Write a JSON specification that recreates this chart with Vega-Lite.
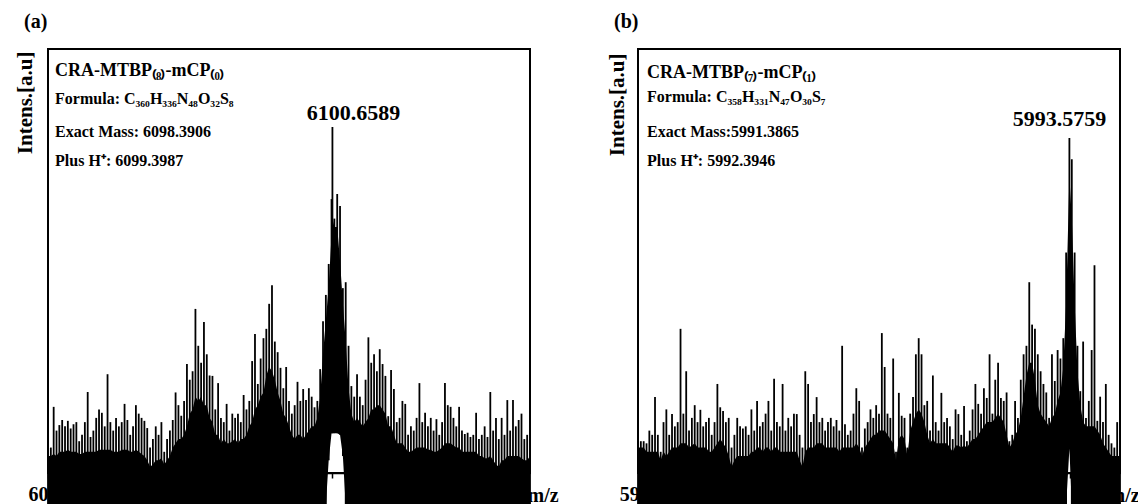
{
"$schema": "https://vega.github.io/schema/vega-lite/v6.json",
"background": "white",
"padding": {"left": 12, "top": 11, "right": 0, "bottom": 0},
"bounds": "flush",
"spacing": 108,
"config": {"view": {"stroke": "black", "strokeWidth": 2}, "font": "Liberation Serif"},
"datasets": {
"a": [
{"mz":6050.5,"top":5,"floor":4,"base":-7.6},{"mz":6051,"top":6,"floor":4,"base":-7.6},{"mz":6051.5,"top":15.6,"floor":4.5,"base":-7.6},{"mz":6052,"top":10,"floor":4,"base":-7.6},{"mz":6052.5,"top":11.3,"floor":5,"base":-7.6},{"mz":6053,"top":12.5,"floor":5,"base":-7.6},{"mz":6053.5,"top":11,"floor":5,"base":-7.6},{"mz":6054,"top":12.3,"floor":5.5,"base":-7.6},{"mz":6054.5,"top":10.5,"floor":5,"base":-7.6},{"mz":6055,"top":11.5,"floor":5,"base":-7.6},{"mz":6055.5,"top":12,"floor":5,"base":-7.6},{"mz":6056,"top":7.5,"floor":4.5,"base":-7.6},{"mz":6056.5,"top":9,"floor":4.5,"base":-7.6},{"mz":6057,"top":12,"floor":5,"base":-7.6},{"mz":6057.5,"top":19.1,"floor":5,"base":-7.6},{"mz":6058,"top":8.5,"floor":5,"base":-7.6},{"mz":6058.5,"top":10,"floor":5,"base":-7.6},{"mz":6059,"top":13,"floor":5,"base":-7.6},{"mz":6059.5,"top":15,"floor":5.5,"base":-7.6},{"mz":6060,"top":14.2,"floor":5.5,"base":-7.6},{"mz":6060.5,"top":11,"floor":5.5,"base":-7.6},{"mz":6061,"top":23.3,"floor":5.5,"base":-7.6},{"mz":6061.5,"top":12,"floor":5.5,"base":-7.6},{"mz":6062,"top":10,"floor":5,"base":-7.6},{"mz":6062.5,"top":13,"floor":5,"base":-7.6},{"mz":6063,"top":11,"floor":5,"base":-7.6},{"mz":6063.5,"top":12,"floor":5.5,"base":-7.6},{"mz":6064,"top":16.3,"floor":5.5,"base":-7.6},{"mz":6064.5,"top":12.5,"floor":5.5,"base":-7.6},{"mz":6065,"top":9,"floor":5,"base":-7.6},{"mz":6065.5,"top":11,"floor":5,"base":-7.6},{"mz":6066,"top":16,"floor":5.5,"base":-7.6},{"mz":6066.5,"top":14,"floor":5,"base":-7.6},{"mz":6067,"top":13,"floor":4.5,"base":-7.6},{"mz":6067.5,"top":12.3,"floor":4,"base":-7.6},{"mz":6068,"top":10.6,"floor":3,"base":-7.6},{"mz":6068.5,"top":6,"floor":1.5,"base":-7.6},{"mz":6069,"top":8,"floor":2,"base":-7.6},{"mz":6069.5,"top":11,"floor":3,"base":-7.6},{"mz":6070,"top":9,"floor":3,"base":-7.6},{"mz":6070.5,"top":12,"floor":3.5,"base":-7.6},{"mz":6071,"top":5,"floor":2,"base":-7.6},{"mz":6071.5,"top":8,"floor":3,"base":-7.6},{"mz":6072,"top":10,"floor":4,"base":-7.6},{"mz":6072.5,"top":12.5,"floor":6,"base":-7.6},{"mz":6073,"top":19,"floor":7,"base":-7.6},{"mz":6073.5,"top":16,"floor":8,"base":-7.6},{"mz":6074,"top":13.5,"floor":8,"base":-7.6},{"mz":6074.5,"top":17,"floor":9,"base":-7.6},{"mz":6075,"top":25.7,"floor":11,"base":-7.6},{"mz":6075.5,"top":22,"floor":14,"base":-7.6},{"mz":6076,"top":24,"floor":15,"base":-7.6},{"mz":6076.5,"top":38.7,"floor":18,"base":-7.6},{"mz":6077,"top":30,"floor":17,"base":-7.6},{"mz":6077.5,"top":26,"floor":18,"base":-7.6},{"mz":6078,"top":35.6,"floor":16,"base":-7.6},{"mz":6078.5,"top":28,"floor":16,"base":-7.6},{"mz":6079,"top":23,"floor":13,"base":-7.6},{"mz":6079.5,"top":22.9,"floor":12,"base":-7.6},{"mz":6080,"top":15,"floor":9,"base":-7.6},{"mz":6080.5,"top":21.2,"floor":9,"base":-7.6},{"mz":6081,"top":13,"floor":7,"base":-7.6},{"mz":6081.5,"top":12,"floor":8,"base":-7.6},{"mz":6082,"top":16.3,"floor":7,"base":-7.6},{"mz":6082.5,"top":10,"floor":7,"base":-7.6},{"mz":6083,"top":14,"floor":7.5,"base":-7.6},{"mz":6083.5,"top":13,"floor":8,"base":-7.6},{"mz":6084,"top":14,"floor":7,"base":-7.6},{"mz":6084.5,"top":12,"floor":8,"base":-7.6},{"mz":6085,"top":18.4,"floor":8,"base":-7.6},{"mz":6085.5,"top":15,"floor":9,"base":-7.6},{"mz":6086,"top":17,"floor":11,"base":-7.6},{"mz":6086.5,"top":26.4,"floor":12,"base":-7.6},{"mz":6087,"top":32.8,"floor":15,"base":-7.6},{"mz":6087.5,"top":21,"floor":16,"base":-7.6},{"mz":6088,"top":27,"floor":18,"base":-7.6},{"mz":6088.5,"top":31.8,"floor":19,"base":-7.6},{"mz":6089,"top":34,"floor":23,"base":-7.6},{"mz":6089.5,"top":39.9,"floor":25,"base":-7.6},{"mz":6090,"top":44.3,"floor":24,"base":-7.6},{"mz":6090.5,"top":31,"floor":22,"base":-7.6},{"mz":6091,"top":28.5,"floor":19,"base":-7.6},{"mz":6091.5,"top":24.8,"floor":17,"base":-7.6},{"mz":6092,"top":20,"floor":14,"base":-7.6},{"mz":6092.5,"top":25,"floor":13,"base":-7.6},{"mz":6093,"top":17,"floor":11,"base":-7.6},{"mz":6093.5,"top":14,"floor":9,"base":-7.6},{"mz":6094,"top":16,"floor":8,"base":-7.6},{"mz":6094.5,"top":21.5,"floor":9,"base":-7.6},{"mz":6095,"top":17,"floor":9,"base":-7.6},{"mz":6095.5,"top":19.8,"floor":8,"base":-7.6},{"mz":6096,"top":17.2,"floor":9,"base":-7.6},{"mz":6096.5,"top":20,"floor":10,"base":-7.6},{"mz":6097,"top":18,"floor":11,"base":-7.6},{"mz":6097.5,"top":15.5,"floor":11,"base":-7.6},{"mz":6098,"top":17,"floor":13,"base":-7.6},{"mz":6098.5,"top":24.5,"floor":18,"base":-7.6},{"mz":6099,"top":35.8,"floor":28,"base":-7.6},{"mz":6099.5,"top":42,"floor":36,"base":-7.6},{"mz":6100,"top":49.3,"floor":44,"base":3},{"mz":6100.5,"top":64.6,"floor":56,"base":9.4},{"mz":6100.6589,"top":81.6,"floor":60,"base":9.4},{"mz":6101,"top":60,"floor":58,"base":9.4},{"mz":6101.5,"top":65.8,"floor":58,"base":9.4},{"mz":6102,"top":63,"floor":50,"base":9},{"mz":6102.5,"top":43.6,"floor":40,"base":4},{"mz":6103,"top":45,"floor":31,"base":-7.6},{"mz":6103.5,"top":30,"floor":20,"base":-7.6},{"mz":6104,"top":20.5,"floor":14,"base":-7.6},{"mz":6104.5,"top":18,"floor":12,"base":-7.6},{"mz":6105,"top":23.3,"floor":13,"base":-7.6},{"mz":6105.5,"top":18,"floor":12,"base":-7.6},{"mz":6106,"top":16,"floor":11,"base":-7.6},{"mz":6106.5,"top":22,"floor":12,"base":-7.6},{"mz":6107,"top":32,"floor":13,"base":-7.6},{"mz":6107.5,"top":26,"floor":15,"base":-7.6},{"mz":6108,"top":28,"floor":15,"base":-7.6},{"mz":6108.5,"top":24,"floor":16,"base":-7.6},{"mz":6109,"top":29.2,"floor":16,"base":-7.6},{"mz":6109.5,"top":25.7,"floor":15,"base":-7.6},{"mz":6110,"top":22.9,"floor":14,"base":-7.6},{"mz":6110.5,"top":13.4,"floor":11,"base":-7.6},{"mz":6111,"top":24.3,"floor":11,"base":-7.6},{"mz":6111.5,"top":19.8,"floor":9,"base":-7.6},{"mz":6112,"top":12,"floor":7,"base":-7.6},{"mz":6112.5,"top":13,"floor":7,"base":-7.6},{"mz":6113,"top":17,"floor":7,"base":-7.6},{"mz":6113.5,"top":16.3,"floor":6,"base":-7.6},{"mz":6114,"top":9,"floor":5,"base":-7.6},{"mz":6114.5,"top":11,"floor":5,"base":-7.6},{"mz":6115,"top":10,"floor":5.5,"base":-7.6},{"mz":6115.5,"top":13,"floor":6,"base":-7.6},{"mz":6116,"top":21.2,"floor":6,"base":-7.6},{"mz":6116.5,"top":12,"floor":6,"base":-7.6},{"mz":6117,"top":14.2,"floor":6,"base":-7.6},{"mz":6117.5,"top":11,"floor":5.5,"base":-7.6},{"mz":6118,"top":13,"floor":5.5,"base":-7.6},{"mz":6118.5,"top":10,"floor":5,"base":-7.6},{"mz":6119,"top":12.7,"floor":5,"base":-7.6},{"mz":6119.5,"top":9,"floor":5.5,"base":-7.6},{"mz":6120,"top":12,"floor":6,"base":-7.6},{"mz":6120.5,"top":21.2,"floor":7,"base":-7.6},{"mz":6121,"top":16,"floor":7,"base":-7.6},{"mz":6121.5,"top":15.6,"floor":7,"base":-7.6},{"mz":6122,"top":13,"floor":6.5,"base":-7.6},{"mz":6122.5,"top":11,"floor":6,"base":-7.6},{"mz":6123,"top":15.6,"floor":6,"base":-7.6},{"mz":6123.5,"top":10,"floor":5,"base":-7.6},{"mz":6124,"top":9.2,"floor":5,"base":-7.6},{"mz":6124.5,"top":9.5,"floor":5,"base":-7.6},{"mz":6125,"top":8.5,"floor":5,"base":-7.6},{"mz":6125.5,"top":9,"floor":5,"base":-7.6},{"mz":6126,"top":14.2,"floor":5,"base":-7.6},{"mz":6126.5,"top":8,"floor":4,"base":-7.6},{"mz":6127,"top":9,"floor":4,"base":-7.6},{"mz":6127.5,"top":11,"floor":3.5,"base":-7.6},{"mz":6128,"top":8.5,"floor":3.5,"base":-7.6},{"mz":6128.5,"top":19.1,"floor":4,"base":-7.6},{"mz":6129,"top":10,"floor":3,"base":-7.6},{"mz":6129.5,"top":13,"floor":2,"base":-7.6},{"mz":6130,"top":8,"floor":1.5,"base":-7.6},{"mz":6130.5,"top":13,"floor":3,"base":-7.6},{"mz":6131,"top":9,"floor":3,"base":-7.6},{"mz":6131.5,"top":17.2,"floor":4,"base":-7.6},{"mz":6132,"top":10,"floor":4,"base":-7.6},{"mz":6132.5,"top":17.2,"floor":4,"base":-7.6},{"mz":6133,"top":11,"floor":4,"base":-7.6},{"mz":6133.5,"top":12.5,"floor":4,"base":-7.6},{"mz":6134,"top":14,"floor":3.5,"base":-7.6},{"mz":6134.5,"top":8,"floor":3,"base":-7.6},{"mz":6135,"top":9,"floor":3,"base":-7.6},{"mz":6135.5,"top":9.2,"floor":4,"base":-7.6}
],
"b": [
{"mz":5917.5,"top":7,"floor":6,"base":-7.6},{"mz":5918,"top":7.5,"floor":6,"base":-7.6},{"mz":5918.5,"top":7.5,"floor":6,"base":-7.6},{"mz":5919,"top":7,"floor":5,"base":-7.6},{"mz":5919.5,"top":10,"floor":5,"base":-7.6},{"mz":5920,"top":9,"floor":5,"base":-7.6},{"mz":5920.5,"top":17.9,"floor":5,"base":-7.6},{"mz":5921,"top":9,"floor":5,"base":-7.6},{"mz":5921.5,"top":5,"floor":3,"base":-7.6},{"mz":5922,"top":12,"floor":5,"base":-7.6},{"mz":5922.5,"top":15,"floor":4,"base":-7.6},{"mz":5923,"top":9,"floor":5,"base":-7.6},{"mz":5923.5,"top":13.9,"floor":6,"base":-7.6},{"mz":5924,"top":11,"floor":6,"base":-7.6},{"mz":5924.5,"top":12,"floor":6,"base":-7.6},{"mz":5925,"top":34,"floor":7,"base":-7.6},{"mz":5925.5,"top":14,"floor":7,"base":-7.6},{"mz":5926,"top":24,"floor":7,"base":-7.6},{"mz":5926.5,"top":10,"floor":6,"base":-7.6},{"mz":5927,"top":13,"floor":6.5,"base":-7.6},{"mz":5927.5,"top":16,"floor":7,"base":-7.6},{"mz":5928,"top":12,"floor":6,"base":-7.6},{"mz":5928.5,"top":14.9,"floor":6,"base":-7.6},{"mz":5929,"top":11,"floor":6,"base":-7.6},{"mz":5929.5,"top":12,"floor":6,"base":-7.6},{"mz":5930,"top":13,"floor":5,"base":-7.6},{"mz":5930.5,"top":9,"floor":5,"base":-7.6},{"mz":5931,"top":12,"floor":6,"base":-7.6},{"mz":5931.5,"top":21,"floor":7,"base":-7.6},{"mz":5932,"top":15.5,"floor":8,"base":-7.6},{"mz":5932.5,"top":14.6,"floor":7,"base":-7.6},{"mz":5933,"top":12,"floor":6,"base":-7.6},{"mz":5933.5,"top":13,"floor":4,"base":-7.6},{"mz":5934,"top":6,"floor":1.5,"base":-7.6},{"mz":5934.5,"top":9,"floor":3,"base":-7.6},{"mz":5935,"top":13,"floor":4,"base":-7.6},{"mz":5935.5,"top":11,"floor":4,"base":-7.6},{"mz":5936,"top":10.5,"floor":4,"base":-7.6},{"mz":5936.5,"top":11,"floor":4,"base":-7.6},{"mz":5937,"top":9,"floor":4,"base":-7.6},{"mz":5937.5,"top":15,"floor":5,"base":-7.6},{"mz":5938,"top":10,"floor":5,"base":-7.6},{"mz":5938.5,"top":17,"floor":6,"base":-7.6},{"mz":5939,"top":11,"floor":6,"base":-7.6},{"mz":5939.5,"top":12,"floor":5,"base":-7.6},{"mz":5940,"top":14,"floor":6,"base":-7.6},{"mz":5940.5,"top":17,"floor":6,"base":-7.6},{"mz":5941,"top":10,"floor":5,"base":-7.6},{"mz":5941.5,"top":22.2,"floor":6,"base":-7.6},{"mz":5942,"top":12,"floor":6,"base":-7.6},{"mz":5942.5,"top":11,"floor":5,"base":-7.6},{"mz":5943,"top":21,"floor":5,"base":-7.6},{"mz":5943.5,"top":10,"floor":5,"base":-7.6},{"mz":5944,"top":13,"floor":5,"base":-7.6},{"mz":5944.5,"top":11,"floor":5,"base":-7.6},{"mz":5945,"top":14,"floor":5,"base":-7.6},{"mz":5945.5,"top":13.9,"floor":5,"base":-7.6},{"mz":5946,"top":9,"floor":3,"base":-7.6},{"mz":5946.5,"top":6,"floor":1.5,"base":-7.6},{"mz":5947,"top":24,"floor":5,"base":-7.6},{"mz":5947.5,"top":21,"floor":6,"base":-7.6},{"mz":5948,"top":12,"floor":6,"base":-7.6},{"mz":5948.5,"top":13.9,"floor":6,"base":-7.6},{"mz":5949,"top":17.9,"floor":7,"base":-7.6},{"mz":5949.5,"top":12,"floor":7,"base":-7.6},{"mz":5950,"top":13,"floor":7,"base":-7.6},{"mz":5950.5,"top":10,"floor":6,"base":-7.6},{"mz":5951,"top":12,"floor":6,"base":-7.6},{"mz":5951.5,"top":13,"floor":6,"base":-7.6},{"mz":5952,"top":11,"floor":6,"base":-7.6},{"mz":5952.5,"top":12.5,"floor":6,"base":-7.6},{"mz":5953,"top":10,"floor":5,"base":-7.6},{"mz":5953.5,"top":30,"floor":6,"base":-7.6},{"mz":5954,"top":11.5,"floor":6,"base":-7.6},{"mz":5954.5,"top":9,"floor":6,"base":-7.6},{"mz":5955,"top":10,"floor":6,"base":-7.6},{"mz":5955.5,"top":14,"floor":6,"base":-7.6},{"mz":5956,"top":20,"floor":7,"base":-7.6},{"mz":5956.5,"top":17,"floor":6,"base":-7.6},{"mz":5957,"top":6,"floor":4,"base":-7.6},{"mz":5957.5,"top":10.5,"floor":6,"base":-7.6},{"mz":5958,"top":12,"floor":7,"base":-7.6},{"mz":5958.5,"top":15,"floor":8,"base":-7.6},{"mz":5959,"top":13,"floor":9,"base":-7.6},{"mz":5959.5,"top":16,"floor":9,"base":-7.6},{"mz":5960,"top":14,"floor":10,"base":-7.6},{"mz":5960.5,"top":33,"floor":10,"base":-7.6},{"mz":5961,"top":25,"floor":10,"base":-7.6},{"mz":5961.5,"top":14,"floor":9,"base":-7.6},{"mz":5962,"top":13,"floor":8,"base":-7.6},{"mz":5962.5,"top":27,"floor":7,"base":-7.6},{"mz":5963,"top":5,"floor":3,"base":-7.6},{"mz":5963.5,"top":18.9,"floor":8,"base":-7.6},{"mz":5964,"top":13.5,"floor":9,"base":-7.6},{"mz":5964.5,"top":13,"floor":8,"base":-7.6},{"mz":5965,"top":6,"floor":4,"base":-7.6},{"mz":5965.5,"top":14,"floor":10,"base":-7.6},{"mz":5966,"top":17.9,"floor":12,"base":-7.6},{"mz":5966.5,"top":28,"floor":14,"base":-7.6},{"mz":5967,"top":31.8,"floor":15,"base":-7.6},{"mz":5967.5,"top":28,"floor":14,"base":-7.6},{"mz":5968,"top":16,"floor":12,"base":-7.6},{"mz":5968.5,"top":17,"floor":9,"base":-7.6},{"mz":5969,"top":10,"floor":7,"base":-7.6},{"mz":5969.5,"top":23,"floor":8,"base":-7.6},{"mz":5970,"top":12,"floor":7,"base":-7.6},{"mz":5970.5,"top":10,"floor":7,"base":-7.6},{"mz":5971,"top":18.9,"floor":7,"base":-7.6},{"mz":5971.5,"top":12,"floor":7,"base":-7.6},{"mz":5972,"top":13,"floor":7,"base":-7.6},{"mz":5972.5,"top":11,"floor":6,"base":-7.6},{"mz":5973,"top":8,"floor":5,"base":-7.6},{"mz":5973.5,"top":15,"floor":6.5,"base":-7.6},{"mz":5974,"top":13.9,"floor":6.5,"base":-7.6},{"mz":5974.5,"top":9,"floor":6,"base":-7.6},{"mz":5975,"top":15.8,"floor":6.5,"base":-7.6},{"mz":5975.5,"top":7.5,"floor":6,"base":-7.6},{"mz":5976,"top":10,"floor":7,"base":-7.6},{"mz":5976.5,"top":15,"floor":8,"base":-7.6},{"mz":5977,"top":21,"floor":8,"base":-7.6},{"mz":5977.5,"top":16.3,"floor":9,"base":-7.6},{"mz":5978,"top":14,"floor":10,"base":-7.6},{"mz":5978.5,"top":20,"floor":11,"base":-7.6},{"mz":5979,"top":17.7,"floor":12,"base":-7.6},{"mz":5979.5,"top":28,"floor":12,"base":-7.6},{"mz":5980,"top":14,"floor":12,"base":-7.6},{"mz":5980.5,"top":22,"floor":13,"base":-7.6},{"mz":5981,"top":26,"floor":14,"base":-7.6},{"mz":5981.5,"top":17.7,"floor":13,"base":-7.6},{"mz":5982,"top":17,"floor":12,"base":-7.6},{"mz":5982.5,"top":19,"floor":9,"base":-7.6},{"mz":5983,"top":7.5,"floor":6,"base":-7.6},{"mz":5983.5,"top":9,"floor":7,"base":-7.6},{"mz":5984,"top":17,"floor":9,"base":-7.6},{"mz":5984.5,"top":13,"floor":10,"base":-7.6},{"mz":5985,"top":22,"floor":13,"base":-7.6},{"mz":5985.5,"top":28,"floor":18,"base":-7.6},{"mz":5986,"top":30,"floor":23,"base":-7.6},{"mz":5986.5,"top":45,"floor":26,"base":-7.6},{"mz":5987,"top":35,"floor":26,"base":-7.6},{"mz":5987.5,"top":34,"floor":22,"base":-7.6},{"mz":5988,"top":28,"floor":16,"base":-7.6},{"mz":5988.5,"top":24,"floor":14,"base":-7.6},{"mz":5989,"top":21,"floor":13,"base":-7.6},{"mz":5989.5,"top":19,"floor":12,"base":-7.6},{"mz":5990,"top":13,"floor":11,"base":-7.6},{"mz":5990.5,"top":28,"floor":13,"base":-7.6},{"mz":5991,"top":21.7,"floor":14,"base":-7.6},{"mz":5991.5,"top":29,"floor":17,"base":-7.6},{"mz":5992,"top":27,"floor":19,"base":-7.6},{"mz":5992.5,"top":31.8,"floor":25,"base":-7.6},{"mz":5993,"top":52,"floor":40,"base":-7.6},{"mz":5993.5759,"top":79,"floor":70,"base":5.7},{"mz":5994,"top":74,"floor":60,"base":-7.6},{"mz":5994.5,"top":52,"floor":40,"base":-7.6},{"mz":5995,"top":30,"floor":24,"base":-7.6},{"mz":5995.5,"top":19.3,"floor":16,"base":-7.6},{"mz":5996,"top":31,"floor":12,"base":-7.6},{"mz":5996.5,"top":13,"floor":11,"base":-7.6},{"mz":5997,"top":17,"floor":11,"base":-7.6},{"mz":5997.5,"top":29,"floor":11,"base":-7.6},{"mz":5998,"top":49,"floor":11,"base":-7.6},{"mz":5998.5,"top":12.3,"floor":10,"base":-7.6},{"mz":5999,"top":18,"floor":9,"base":-7.6},{"mz":5999.5,"top":12,"floor":7,"base":-7.6},{"mz":6000,"top":21,"floor":6,"base":-7.6},{"mz":6000.5,"top":9,"floor":5,"base":-7.6},{"mz":6001,"top":7,"floor":4,"base":-7.6},{"mz":6001.5,"top":6,"floor":4,"base":-7.6},{"mz":6002,"top":12,"floor":4,"base":-7.6},{"mz":6002.5,"top":9,"floor":4,"base":-7.6}
]
},
"hconcat": [
{
"width": 482, "height": 424,
"title": {"text": "(a)", "anchor": "start", "frame": "group", "dx": -24, "offset": 17, "fontSize": 20, "font": "Liberation Serif", "fontWeight": "bold", "color": "black"},
"data": {"name": "a"},
"layer": [
{"mark": {"type": "area", "color": "black", "interpolate": "linear"},
 "encoding": {
  "x": {"field": "mz", "type": "quantitative", "scale": {"domain": [6050.5, 6135.5], "nice": false, "zero": false},
   "axis": {"values": [6050.5, 6100.6], "labelExpr": "datum.value < 6060 ? '6050' : ''", "labelFlush": false, "labelOverlap": false, "labelBound": false, "labelFont": "Liberation Serif", "labelFontSize": 20, "labelFontWeight": "bold", "labelColor": "black", "labelPadding": 6, "tickSize": 5, "tickColor": "black", "tickWidth": 1.5, "domainColor": "black", "domainWidth": 1.5, "grid": false, "title": "m/z", "titleFont": "Liberation Serif", "titleFontSize": 20, "titleFontWeight": "bold", "titleColor": "black", "titleX": 479, "titleY": 28, "titleAlign": "left", "titleBaseline": "alphabetic"}},
  "y": {"field": "floor", "type": "quantitative", "scale": {"domain": [0, 100], "nice": false, "zero": false},
   "axis": {"title": "Intens.[a.u]", "labels": false, "ticks": false, "domain": false, "grid": false, "titleFont": "Liberation Serif", "titleFontSize": 21, "titleFontWeight": "bold", "titleColor": "black", "titleAngle": -90, "titleX": -23, "titleY": 2, "titleAlign": "right", "titleBaseline": "middle"}},
  "y2": {"field": "base"}
 }},
{"mark": {"type": "rule", "color": "black", "strokeWidth": 1.8},
 "encoding": {
  "x": {"field": "mz", "type": "quantitative", "scale": {"domain": [6050.5, 6135.5], "nice": false, "zero": false}},
  "y": {"field": "top", "type": "quantitative", "scale": {"domain": [0, 100], "nice": false, "zero": false}},
  "y2": {"field": "base"}
 }},
{"transform": [{"filter": "datum.top > 75"}],
 "mark": {"type": "text", "font": "Liberation Serif", "fontSize": 22, "fontWeight": "bold", "color": "black", "baseline": "middle", "align": "center", "dx": 21, "dy": -14},
 "encoding": {
  "x": {"field": "mz", "type": "quantitative", "scale": {"domain": [6050.5, 6135.5], "nice": false, "zero": false}},
  "y": {"field": "top", "type": "quantitative", "scale": {"domain": [0, 100], "nice": false, "zero": false}},
  "text": {"field": "mz", "type": "quantitative", "format": ".4f"}
 }},
{"data": {"values": [{}]},
 "mark": {"type": "text", "font": "Liberation Serif", "fontSize": 18, "fontWeight": "bold", "color": "black", "baseline": "middle", "align": "left"},
 "encoding": {"x": {"datum": 6051.75, "type": "quantitative"}, "y": {"datum": 94.8, "type": "quantitative"}, "text": {"value": "CRA-MTBP₍₈₎-mCP₍₀₎"}}},
{"data": {"values": [{}]},
 "mark": {"type": "text", "font": "Liberation Serif", "fontSize": 16, "fontWeight": "bold", "color": "black", "baseline": "middle", "align": "left"},
 "encoding": {"x": {"datum": 6051.75, "type": "quantitative"}, "y": {"datum": 88.2, "type": "quantitative"}, "text": {"value": "Formula: C₃₆₀H₃₃₆N₄₈O₃₂S₈"}}},
{"data": {"values": [{}]},
 "mark": {"type": "text", "font": "Liberation Serif", "fontSize": 16, "fontWeight": "bold", "color": "black", "baseline": "middle", "align": "left"},
 "encoding": {"x": {"datum": 6051.75, "type": "quantitative"}, "y": {"datum": 80.4, "type": "quantitative"}, "text": {"value": "Exact Mass: 6098.3906"}}},
{"data": {"values": [{}]},
 "mark": {"type": "text", "font": "Liberation Serif", "fontSize": 16, "fontWeight": "bold", "color": "black", "baseline": "middle", "align": "left"},
 "encoding": {"x": {"datum": 6051.75, "type": "quantitative"}, "y": {"datum": 73.6, "type": "quantitative"}, "text": {"value": "Plus H⁺: 6099.3987"}}}
]
},
{
"width": 482, "height": 424,
"title": {"text": "(b)", "anchor": "start", "frame": "group", "dx": -24, "offset": 17, "fontSize": 20, "font": "Liberation Serif", "fontWeight": "bold", "color": "black"},
"data": {"name": "b"},
"layer": [
{"mark": {"type": "area", "color": "black", "interpolate": "linear"},
 "encoding": {
  "x": {"field": "mz", "type": "quantitative", "scale": {"domain": [5917.5, 6002.5], "nice": false, "zero": false},
   "axis": {"values": [5917.7, 5993.6], "labelExpr": "datum.value < 5930 ? '5918' : ''", "labelFlush": false, "labelOverlap": false, "labelBound": false, "labelFont": "Liberation Serif", "labelFontSize": 20, "labelFontWeight": "bold", "labelColor": "black", "labelPadding": 6, "tickSize": 5, "tickColor": "black", "tickWidth": 1.5, "domainColor": "black", "domainWidth": 1.5, "grid": false, "title": "m/z", "titleFont": "Liberation Serif", "titleFontSize": 20, "titleFontWeight": "bold", "titleColor": "black", "titleX": 470, "titleY": 28, "titleAlign": "left", "titleBaseline": "alphabetic"}},
  "y": {"field": "floor", "type": "quantitative", "scale": {"domain": [0, 100], "nice": false, "zero": false},
   "axis": {"title": "Intens.[a.u]", "labels": false, "ticks": false, "domain": false, "grid": false, "titleFont": "Liberation Serif", "titleFontSize": 21, "titleFontWeight": "bold", "titleColor": "black", "titleAngle": -90, "titleX": -21, "titleY": 4, "titleAlign": "right", "titleBaseline": "middle"}},
  "y2": {"field": "base"}
 }},
{"mark": {"type": "rule", "color": "black", "strokeWidth": 1.8},
 "encoding": {
  "x": {"field": "mz", "type": "quantitative", "scale": {"domain": [5917.5, 6002.5], "nice": false, "zero": false}},
  "y": {"field": "top", "type": "quantitative", "scale": {"domain": [0, 100], "nice": false, "zero": false}},
  "y2": {"field": "base"}
 }},
{"transform": [{"filter": "datum.top > 75"}],
 "mark": {"type": "text", "font": "Liberation Serif", "fontSize": 22, "fontWeight": "bold", "color": "black", "baseline": "middle", "align": "center", "dx": -10, "dy": -19},
 "encoding": {
  "x": {"field": "mz", "type": "quantitative", "scale": {"domain": [5917.5, 6002.5], "nice": false, "zero": false}},
  "y": {"field": "top", "type": "quantitative", "scale": {"domain": [0, 100], "nice": false, "zero": false}},
  "text": {"field": "mz", "type": "quantitative", "format": ".4f"}
 }},
{"data": {"values": [{}]},
 "mark": {"type": "text", "font": "Liberation Serif", "fontSize": 18, "fontWeight": "bold", "color": "black", "baseline": "middle", "align": "left"},
 "encoding": {"x": {"datum": 5919.1, "type": "quantitative"}, "y": {"datum": 94.3, "type": "quantitative"}, "text": {"value": "CRA-MTBP₍₇₎-mCP₍₁₎"}}},
{"data": {"values": [{}]},
 "mark": {"type": "text", "font": "Liberation Serif", "fontSize": 16, "fontWeight": "bold", "color": "black", "baseline": "middle", "align": "left"},
 "encoding": {"x": {"datum": 5919.1, "type": "quantitative"}, "y": {"datum": 88.7, "type": "quantitative"}, "text": {"value": "Formula: C₃₅₈H₃₃₁N₄₇O₃₀S₇"}}},
{"data": {"values": [{}]},
 "mark": {"type": "text", "font": "Liberation Serif", "fontSize": 16, "fontWeight": "bold", "color": "black", "baseline": "middle", "align": "left"},
 "encoding": {"x": {"datum": 5919.1, "type": "quantitative"}, "y": {"datum": 80.4, "type": "quantitative"}, "text": {"value": "Exact Mass:5991.3865"}}},
{"data": {"values": [{}]},
 "mark": {"type": "text", "font": "Liberation Serif", "fontSize": 16, "fontWeight": "bold", "color": "black", "baseline": "middle", "align": "left"},
 "encoding": {"x": {"datum": 5919.1, "type": "quantitative"}, "y": {"datum": 73.6, "type": "quantitative"}, "text": {"value": "Plus H⁺: 5992.3946"}}}
]
}
]
}
